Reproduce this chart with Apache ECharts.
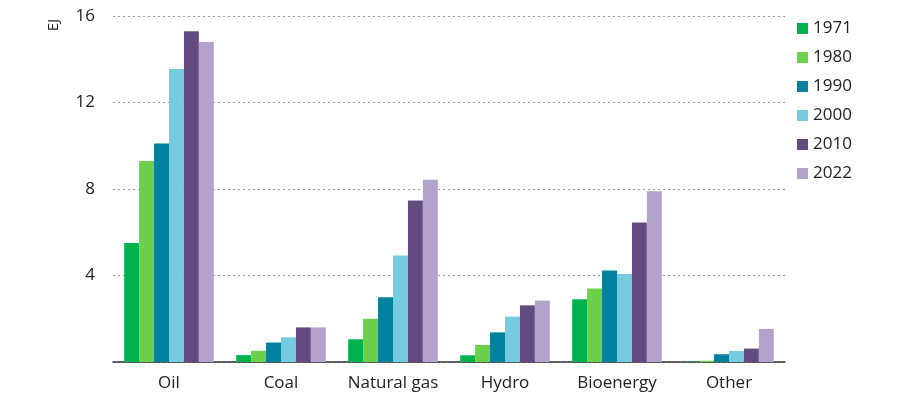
<!DOCTYPE html>
<html>
<head>
<meta charset="utf-8">
<script src="https://cdn.jsdelivr.net/npm/echarts@6/dist/echarts.min.js"></script>
<style>
  html, body { margin: 0; padding: 0; background: #fff; }
  #chart { width: 900px; height: 411px; }
</style>
</head>
<body>
<div id="chart"></div>
<script>
    // energy sources on the x axis
    var categories = ['Oil', 'Coal', 'Natural gas', 'Hydro', 'Bioenergy', 'Other'];
    var years = ['1971', '1980', '1990', '2000', '2010', '2022'];
    var yTicks = [0, 4, 8, 12, 16];

    // EJ per source, one array per year
    var v1971 = [5.5, 0.32, 1.05, 0.31, 2.9, 0.02];
    var v1980 = [9.3, 0.52, 2.0, 0.79, 3.4, 0.06];
    var v1990 = [10.1, 0.9, 3.0, 1.37, 4.23, 0.36];
    var v2000 = [13.55, 1.14, 4.93, 2.1, 4.07, 0.51];
    var v2010 = [15.3, 1.6, 7.47, 2.62, 6.45, 0.62];
    var v2022 = [14.8, 1.6, 8.43, 2.84, 7.9, 1.53];

    var values = [v1971, v1980, v1990, v2000, v2010, v2022];
    var colors = ['#00b14f', '#6dd04b', '#00829c', '#75cbe0', '#634b7f', '#b3a2cb'];

    var font = '"Open Sans", "Liberation Sans", sans-serif';
    var chart = echarts.init(document.getElementById('chart'));

    var series = years.map(function (y, i) {
        return {
            name: y,
            type: 'bar',
            data: values[i],
            barGap: 0,
            barCategoryGap: '20%',
            itemStyle: { color: colors[i] }
        };
    });

    var option = {
        animation: false,
        color: colors,
        grid: { left: 113, right: 115, top: 16, bottom: 49 },
        legend: {
            orient: 'vertical',
            left: 797,
            top: 20,
            padding: 0,
            itemWidth: 11,
            itemHeight: 11,
            itemGap: 12,
            icon: 'rect',
            textStyle: { fontFamily: font, fontSize: 17, color: '#222' },
            data: years
        },
        xAxis: {
            type: 'category',
            data: categories,
            axisTick: { show: false },
            axisLine: { lineStyle: { color: '#333', width: 1.5 } },
            axisLabel: { fontFamily: font, fontSize: 17, color: '#222', margin: 13, interval: 0 }
        },
        yAxis: {
            type: 'value',
            min: yTicks[0],
            max: yTicks[yTicks.length - 1],
            interval: 4,
            axisLine: { show: false },
            axisTick: { show: false },
            axisLabel: {
                fontFamily: font, fontSize: 17, color: '#222', margin: 18,
                formatter: function (v) { return v === 0 ? '' : v; }
            },
            splitLine: { lineStyle: { color: '#999', type: [2, 3], width: 1.2 } }
        },
        graphic: [{
            type: 'text',
            left: 46,
            top: 19,
            rotation: Math.PI / 2,
            style: { text: 'EJ', font: '15px ' + font, fill: '#222' }
        }],
        series: series
    };

    chart.setOption(option);
</script>
</body>
</html>
